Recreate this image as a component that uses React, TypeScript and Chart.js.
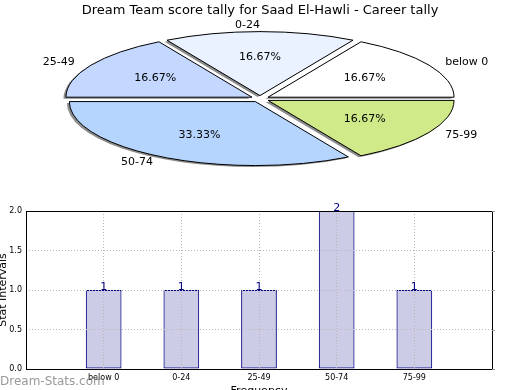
import React, { useEffect, useRef } from 'react';
import { Chart, registerables } from 'chart.js';

Chart.register(...registerables);

// ---- data ----
const TITLE = 'Dream Team score tally for Saad El-Hawli - Career tally';
const categories = ['below 0', '0-24', '25-49', '50-74', '75-99'];
const counts = [1, 1, 1, 2, 1];
const sliceColors = ['#ffffff', '#eaf2ff', '#c4d8ff', '#b5d5ff', '#d0ea8a'];
const yTicks = [0, 0.5, 1, 1.5, 2];
const yAxisLabel = 'Stat Intervals';
const xAxisLabel = 'Frequency';
const watermark = 'Dream-Stats.com';

// ---- layout / style ----
const FONT = "'DejaVu Sans', 'Liberation Sans', sans-serif";
const PIE_W = 520;
const PIE_H = 179;
const BAR_LEFT = -3;
const BAR_TOP = 195;
const BAR_W = 499;
const BAR_H = 203;
const PLOT_LEFT = 26; // page x of the bar plot's left edge
const PLOT_BOTTOM = 369; // page y of the bar plot's bottom edge

const ellipsePie = {
  id: 'ellipsePie',
  beforeDatasetsDraw(chart: any, _args: any, opts: any) {
    const ctx = chart.ctx as CanvasRenderingContext2D;
    const meta = chart.getDatasetMeta(0);
    const k = opts.ratio;
    const ex = opts.explode;
    const [sx, sy] = opts.shadow;
    const wedge = (el: any, dx: number, dy: number) => {
      const { x, y, startAngle, endAngle, outerRadius: R } = el;
      const mid = (startAngle + endAngle) / 2;
      const ox = Math.cos(mid) * ex * R;
      const oy = Math.sin(mid) * ex * R;
      ctx.save();
      ctx.translate(x + dx, y + dy);
      ctx.scale(1, -k);
      ctx.beginPath();
      ctx.moveTo(ox, oy);
      ctx.arc(ox, oy, R, startAngle, endAngle);
      ctx.closePath();
      ctx.restore();
    };
    ctx.save();
    ctx.fillStyle = opts.shadowColor;
    meta.data.forEach((el: any) => {
      wedge(el, sx, sy);
      ctx.fill();
    });
    ctx.restore();
    meta.data.forEach((el: any) => {
      const { x, y, startAngle, endAngle, outerRadius: R } = el;
      const mid = (startAngle + endAngle) / 2;
      const ox = Math.cos(mid) * ex * R;
      const oy = Math.sin(mid) * ex * R;
      ctx.save();
      ctx.translate(x, y);
      ctx.scale(1, -k);
      ctx.translate(ox - x, oy - y);
      el.draw(ctx);
      ctx.restore();
      ctx.save();
      wedge(el, 0, 0);
      ctx.lineWidth = 1;
      ctx.strokeStyle = '#000';
      ctx.stroke();
      ctx.restore();
    });
    return false;
  },
  afterDraw(chart: any, _args: any, opts: any) {
    const ctx = chart.ctx as CanvasRenderingContext2D;
    const meta = chart.getDatasetMeta(0);
    const k = opts.ratio;
    const ex = opts.explode;
    const values = chart.data.datasets[0].data as number[];
    const total = values.reduce((a, b) => a + b, 0);
    ctx.save();
    ctx.font = `${opts.fontSize}px ${FONT}`;
    ctx.fillStyle = '#000';
    ctx.textBaseline = 'middle';
    meta.data.forEach((el: any, i: number) => {
      const { x, y, startAngle, endAngle, outerRadius: R } = el;
      const mid = (startAngle + endAngle) / 2;
      const c = Math.cos(mid);
      const s = Math.sin(mid);
      const ld = ex + opts.labelDistance;
      ctx.textAlign = c > 1e-9 ? 'left' : 'right';
      ctx.fillText(chart.data.labels[i], x + ld * R * c, y - k * ld * R * s);
      const pd = ex + opts.pctDistance;
      ctx.textAlign = 'center';
      ctx.fillText(((values[i] / total) * 100).toFixed(2) + '%', x + pd * R * c, y - k * pd * R * s);
    });
    ctx.restore();
  },
};

const barDeco = {
  id: 'barDeco',
  afterDraw(chart: any, _args: any, opts: any) {
    const ctx = chart.ctx as CanvasRenderingContext2D;
    const { left, top, right, bottom } = chart.chartArea;
    ctx.save();
    ctx.strokeStyle = '#000';
    ctx.lineWidth = 1;
    ctx.setLineDash([]);
    const l = Math.round(left), t = Math.round(top), r = Math.round(right), b = Math.round(bottom);
    ctx.strokeRect(l + 0.5, t + 0.5, r - l, b - t);
    // small tick marks on the right spine (matplotlib style)
    ctx.beginPath();
    chart.scales.y.ticks.forEach((tk: any) => {
      const py = Math.round(chart.scales.y.getPixelForValue(tk.value)) + 0.5;
      ctx.moveTo(r, py);
      ctx.lineTo(r + 3, py);
    });
    ctx.strokeStyle = '#999';
    ctx.stroke();
    // value labels
    const meta = chart.getDatasetMeta(0);
    const data = chart.data.datasets[0].data;
    ctx.font = `11px ${FONT}`;
    ctx.fillStyle = '#000080';
    ctx.textAlign = 'center';
    ctx.textBaseline = 'alphabetic';
    meta.data.forEach((el: any, i: number) => {
      const v = data[i];
      if (v === null || v === undefined) return;
      ctx.fillText(String(v), el.x, el.y);
    });
    // watermark
    ctx.font = `12px ${FONT}`;
    ctx.fillStyle = opts.watermarkColor;
    ctx.textAlign = 'left';
    ctx.fillText(watermark, -BAR_LEFT, 385 - BAR_TOP);
    ctx.restore();
  },
};

export default function App() {
  const pieRef = useRef<HTMLCanvasElement>(null);
  const barRef = useRef<HTMLCanvasElement>(null);

  useEffect(() => {
    const pie = new Chart(pieRef.current as HTMLCanvasElement, {
      type: 'pie',
      data: {
        labels: categories,
        datasets: [{ data: counts, backgroundColor: sliceColors, borderWidth: 0 }],
      },
      options: {
        animation: false,
        responsive: false,
        events: [],
        rotation: 90,
        radius: 186,
        layout: { padding: 0 },
        plugins: {
          legend: { display: false },
          tooltip: { enabled: false },
          title: {
            display: true,
            text: TITLE,
            color: '#000',
            font: { family: FONT, size: 13, weight: 'normal' },
            padding: { top: 3, bottom: 0 },
          },
          ellipsePie: {
            ratio: 0.344,
            explode: 0.05,
            shadow: [-2.5, 1.5],
            shadowColor: 'rgba(0,0,0,0.45)',
            fontSize: 11,
            labelDistance: 1.1,
            pctDistance: 0.6,
          },
        },
      } as any,
      plugins: [ellipsePie as any],
    });

    const xLabels = ['', ...categories, ''];
    const barValues = [null, ...counts, null];
    const mkGrid = () => ({ color: '#b8b8b8', lineWidth: 1, drawTicks: false, offset: false, z: 1 });
    // border line itself is drawn by the barDeco frame; its dash styles the grid lines
    const mkBorder = () => ({ display: false, dash: [1, 2] });
    const bar = new Chart(barRef.current as HTMLCanvasElement, {
      type: 'bar',
      data: {
        labels: xLabels,
        datasets: [
          {
            data: barValues,
            backgroundColor: 'rgba(0,0,128,0.2)',
            borderColor: '#000080',
            borderWidth: 1,
            borderSkipped: false,
            barPercentage: 0.46,
            categoryPercentage: 1,
          },
        ],
      },
      options: {
        animation: false,
        responsive: false,
        events: [],
        layout: { padding: { top: 16, right: 0, bottom: 0, left: 0 } },
        plugins: {
          legend: { display: false },
          tooltip: { enabled: false },
          barDeco: { watermarkColor: 'rgba(128,128,128,0.8)' },
        },
        scales: {
          x: {
            type: 'category',
            offset: false,
            grid: mkGrid(),
            border: mkBorder(),
            afterFit: (scale: any) => {
              scale.height = BAR_TOP + BAR_H - PLOT_BOTTOM;
            },
            ticks: { color: '#000', font: { family: FONT, size: 8 }, padding: 4, maxRotation: 0, autoSkip: false },
            title: {
              display: true,
              text: xAxisLabel,
              color: '#000',
              font: { family: FONT, size: 11 },
              padding: { top: 0, bottom: 0 },
            },
          },
          y: {
            min: yTicks[0],
            max: yTicks[yTicks.length - 1],
            afterBuildTicks: (scale: any) => {
              scale.ticks = yTicks.map((v) => ({ value: v }));
            },
            afterFit: (scale: any) => {
              scale.width = PLOT_LEFT - BAR_LEFT;
            },
            grid: mkGrid(),
            border: mkBorder(),
            ticks: {
              color: '#000',
              font: { family: FONT, size: 8 },
              padding: 4,
              callback: (v: any) => Number(v).toFixed(1),
            },
            title: {
              display: true,
              text: yAxisLabel,
              color: '#000',
              font: { family: FONT, size: 11 },
              padding: { top: 0, bottom: 0 },
            },
          },
        },
      } as any,
      plugins: [barDeco as any],
    });

    return () => {
      pie.destroy();
      bar.destroy();
    };
  }, []);

  return (
    <div
      style={{
        position: 'fixed',
        left: 0,
        top: 0,
        width: 520,
        height: 390,
        overflow: 'hidden',
        background: '#fff',
      }}
    >
      <canvas
        ref={pieRef}
        width={PIE_W}
        height={PIE_H}
        style={{ position: 'absolute', left: 0, top: 0, width: PIE_W, height: PIE_H }}
      />
      <canvas
        ref={barRef}
        width={BAR_W}
        height={BAR_H}
        style={{ position: 'absolute', left: BAR_LEFT, top: BAR_TOP, width: BAR_W, height: BAR_H }}
      />
    </div>
  );
}
